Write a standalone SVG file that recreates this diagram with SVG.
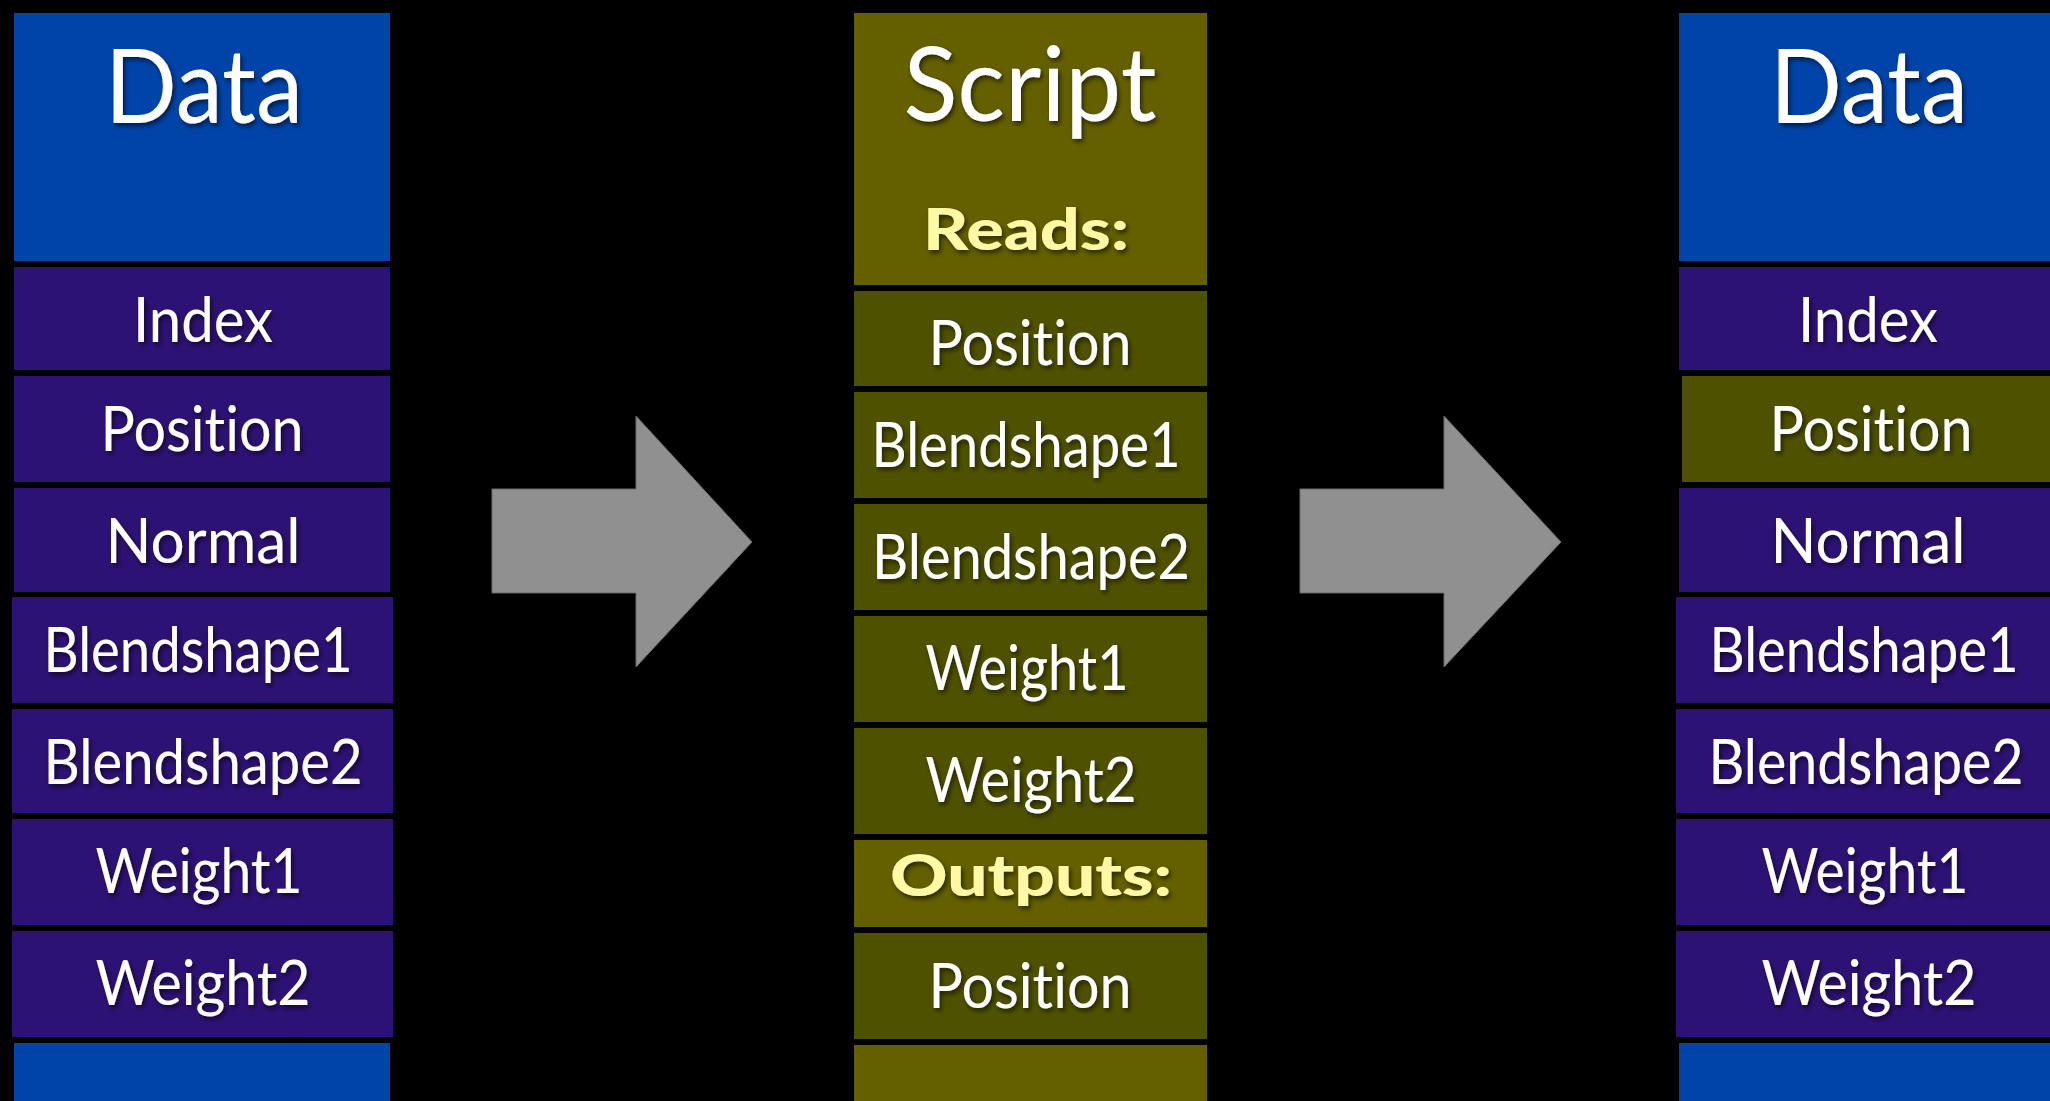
<svg xmlns="http://www.w3.org/2000/svg" width="2050" height="1101" viewBox="0 0 2050 1101">
<defs>
<filter id="sh" x="-4%" y="-20%" width="108%" height="140%">
<feDropShadow dx="2" dy="3" stdDeviation="2.5" flood-color="#000" flood-opacity="0.6"/>
</filter>
</defs>
<style>
.blue{fill:#0044AA}
.purp{fill:#2D1275}
.oliv{fill:#646000}
.dolv{fill:#4E5200}
.t{font-family:"Lato","Open Sans","Liberation Sans",sans-serif;fill:#fff;text-anchor:middle;font-size:61px;filter:url(#sh);font-variant-ligatures:none;font-feature-settings:"liga" 0,"clig" 0}
.h{font-size:102px}
.b{font-weight:900;fill:#FFF9A6;font-size:58px}
.arrow{fill:#909090;stroke:#6a6a6a;stroke-width:1}
</style>
<rect width="2050" height="1101" fill="#000"/>

<g id="left-column">
<g id="l-data"><rect class="blue" x="14" y="13" width="376" height="248"/><text class="t h" x="204" y="123" textLength="198" lengthAdjust="spacingAndGlyphs">Data</text></g>
<g id="l-index"><rect class="purp" x="14" y="267" width="376" height="103"/><text class="t" x="203" y="342" textLength="140" lengthAdjust="spacingAndGlyphs">Index</text></g>
<g id="l-position"><rect class="purp" x="14" y="376" width="376" height="106"/><text class="t" x="202" y="451" textLength="203" lengthAdjust="spacingAndGlyphs">Position</text></g>
<g id="l-normal"><rect class="purp" x="14" y="488" width="376" height="104"/><text class="t" x="203" y="563" textLength="195" lengthAdjust="spacingAndGlyphs">Normal</text></g>
<g id="l-blend1"><rect class="purp" x="12" y="597" width="381" height="106"/><text class="t" x="198" y="672" textLength="309" lengthAdjust="spacingAndGlyphs">Blendshape1</text></g>
<g id="l-blend2"><rect class="purp" x="12" y="709" width="381" height="104"/><text class="t" x="203" y="784" textLength="319" lengthAdjust="spacingAndGlyphs">Blendshape2</text></g>
<g id="l-weight1"><rect class="purp" x="12" y="819" width="381" height="106"/><text class="t" x="199" y="893" textLength="207" lengthAdjust="spacingAndGlyphs">Weight1</text></g>
<g id="l-weight2"><rect class="purp" x="12" y="931" width="381" height="106"/><text class="t" x="203" y="1005" textLength="215" lengthAdjust="spacingAndGlyphs">Weight2</text></g>
<g id="l-bottom"><rect class="blue" x="14" y="1043" width="376" height="58"/></g>
</g>

<g id="middle-column">
<g id="m-script"><rect class="oliv" x="854" y="13" width="353" height="272"/><text class="t h" x="1030" y="121" textLength="253" lengthAdjust="spacingAndGlyphs">Script</text><text class="t b" x="1026" y="250" textLength="206" lengthAdjust="spacingAndGlyphs">Reads:</text></g>
<g id="m-position"><rect class="dolv" x="854" y="291" width="353" height="95"/><text class="t" x="1030" y="365" textLength="203" lengthAdjust="spacingAndGlyphs">Position</text></g>
<g id="m-blend1"><rect class="dolv" x="854" y="392" width="353" height="106"/><text class="t" x="1026" y="467" textLength="309" lengthAdjust="spacingAndGlyphs">Blendshape1</text></g>
<g id="m-blend2"><rect class="dolv" x="854" y="504" width="353" height="106"/><text class="t" x="1031" y="579" textLength="318" lengthAdjust="spacingAndGlyphs">Blendshape2</text></g>
<g id="m-weight1"><rect class="dolv" x="854" y="616" width="353" height="106"/><text class="t" x="1027" y="690" textLength="203" lengthAdjust="spacingAndGlyphs">Weight1</text></g>
<g id="m-weight2"><rect class="dolv" x="854" y="728" width="353" height="106"/><text class="t" x="1031" y="802" textLength="211" lengthAdjust="spacingAndGlyphs">Weight2</text></g>
<g id="m-outputs"><rect class="oliv" x="854" y="840" width="353" height="87"/><text class="t b" x="1031" y="896" textLength="282" lengthAdjust="spacingAndGlyphs">Outputs:</text></g>
<g id="m-position-out"><rect class="dolv" x="854" y="933" width="353" height="106"/><text class="t" x="1030" y="1008" textLength="203" lengthAdjust="spacingAndGlyphs">Position</text></g>
<g id="m-bottom"><rect class="oliv" x="854" y="1045" width="353" height="56"/></g>
</g>

<g id="right-column">
<g id="r-data"><rect class="blue" x="1679" y="13" width="371" height="248"/><text class="t h" x="1869" y="123" textLength="198" lengthAdjust="spacingAndGlyphs">Data</text></g>
<g id="r-index"><rect class="purp" x="1679" y="267" width="371" height="103"/><text class="t" x="1868" y="342" textLength="140" lengthAdjust="spacingAndGlyphs">Index</text></g>
<g id="r-position"><rect class="dolv" x="1682" y="376" width="368" height="106"/><text class="t" x="1871" y="451" textLength="203" lengthAdjust="spacingAndGlyphs">Position</text></g>
<g id="r-normal"><rect class="purp" x="1679" y="488" width="371" height="104"/><text class="t" x="1868" y="563" textLength="195" lengthAdjust="spacingAndGlyphs">Normal</text></g>
<g id="r-blend1"><rect class="purp" x="1676" y="597" width="374" height="106"/><text class="t" x="1864" y="672" textLength="309" lengthAdjust="spacingAndGlyphs">Blendshape1</text></g>
<g id="r-blend2"><rect class="purp" x="1676" y="709" width="374" height="104"/><text class="t" x="1866" y="784" textLength="315" lengthAdjust="spacingAndGlyphs">Blendshape2</text></g>
<g id="r-weight1"><rect class="purp" x="1676" y="819" width="374" height="106"/><text class="t" x="1865" y="893" textLength="207" lengthAdjust="spacingAndGlyphs">Weight1</text></g>
<g id="r-weight2"><rect class="purp" x="1676" y="931" width="374" height="106"/><text class="t" x="1869" y="1005" textLength="215" lengthAdjust="spacingAndGlyphs">Weight2</text></g>
<g id="r-bottom"><rect class="blue" x="1679" y="1043" width="371" height="58"/></g>
</g>

<g id="connectors">
<polygon class="arrow" points="492,489 636,489 636,416 752,542 636,667 636,593 492,593"/>
<polygon class="arrow" points="1300,489 1444,489 1444,416 1561,542 1444,667 1444,593 1300,593"/>
</g>
</svg>
